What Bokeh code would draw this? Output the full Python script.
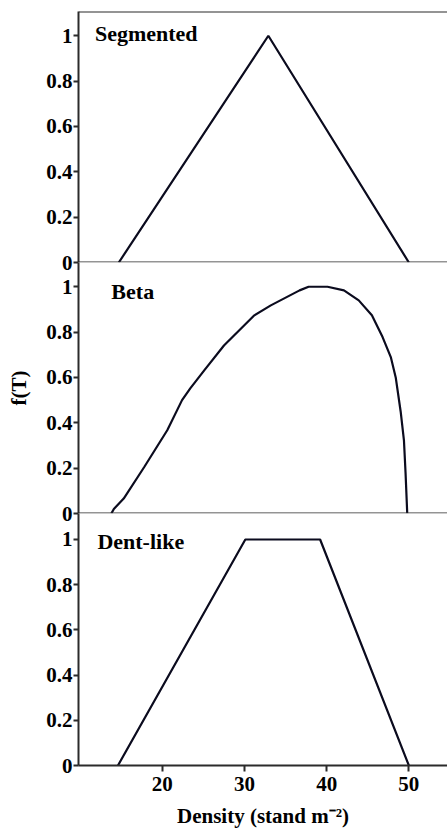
from bokeh.plotting import figure
from bokeh.layouts import column
from bokeh.models import Range1d, FixedTicker, NumeralTickFormatter, Span
from bokeh.core.properties import value
from bokeh.embed import file_html
from bokeh.resources import INLINE

# ---- data ----
seg_x = [14.7, 32.9, 50.0]
seg_y = [0.0, 1.0, 0.0]

beta_x = [13.8, 14.1, 15.3, 17.8, 20.6, 22.4, 23.4, 25.1, 27.5, 31.2, 33.2, 36.7,
          37.8, 40.1, 42.1, 43.9, 45.5, 46.8, 47.8, 48.4, 49.0, 49.4, 49.6, 49.8]
beta_y = [0.0, 0.02, 0.066, 0.205, 0.367, 0.5, 0.552, 0.631, 0.741, 0.874, 0.918, 0.984,
          1.0, 1.0, 0.984, 0.94, 0.874, 0.778, 0.69, 0.6, 0.45, 0.323, 0.176, 0.0]

dent_x = [14.6, 30.1, 39.2, 50.0]
dent_y = [0.0, 1.0, 1.0, 0.0]

panel_names = ["Segmented", "Beta", "Dent-like"]
y_ticks = [0, 0.2, 0.4, 0.6, 0.8, 1]
x_ticks = [20, 30, 40, 50]
y_title = "f(T)"
x_title = "Density (stand m\u207b\u00b2)"

FONT = "Liberation Serif"
CURVE = "#0b0b1e"
AXIS = "#2b2b2b"
OVER = 14  # overlap between stacked panels so edge tick labels are not clipped


def make_panel(xs, ys, name, lx, ly, height, y_end, top, bottom, first, last, ylabel):
    p = figure(width=447, height=height,
               x_range=Range1d(9.8, 54.7), y_range=Range1d(0, y_end),
               output_backend="svg", toolbar_location=None,
               min_border_left=78, min_border_right=0,
               min_border_top=top, min_border_bottom=bottom,
               x_axis_location="below" if last else None,
               background_fill_color="white",
               border_fill_color="white" if first else None,
               outline_line_color=None,
               margin=(0, 0, 0, 0) if first else (-OVER, 0, 0, 0))
    p.grid.visible = False
    p.line(xs, ys, line_color=CURVE, line_width=2.2)
    p.text(x=[lx], y=[ly], text=[name], text_font=value(FONT), text_font_style="bold",
           text_font_size="22px", text_baseline="middle", text_align="left",
           text_color="black")

    ya = p.yaxis[0]
    ya.ticker = FixedTicker(ticks=y_ticks)
    ya.formatter = NumeralTickFormatter(format="0.[0]")
    ya.major_tick_in = 0
    ya.major_tick_out = 5
    ya.minor_tick_line_color = None
    ya.axis_line_width = 2
    ya.axis_line_color = AXIS
    ya.major_tick_line_width = 2
    ya.major_tick_line_color = AXIS
    ya.major_label_text_font = FONT
    ya.major_label_text_font_style = "bold"
    ya.major_label_text_font_size = "21px"
    ya.major_label_text_color = "black"
    ya.major_label_standoff = 1
    if ylabel:
        ya.axis_label = y_title
        ya.axis_label_text_font = FONT
        ya.axis_label_text_font_style = "bold"
        ya.axis_label_text_font_size = "21px"
        ya.axis_label_text_color = "black"
        ya.axis_label_standoff = 12

    if first:
        p.add_layout(Span(location=y_end, dimension="width", line_color=AXIS, line_width=2))
    if not last:
        p.add_layout(Span(location=0, dimension="width", line_color=AXIS, line_width=2))
    else:
        xa = p.xaxis[0]
        xa.ticker = FixedTicker(ticks=x_ticks)
        xa.major_tick_in = 0
        xa.major_tick_out = 6
        xa.minor_tick_line_color = None
        xa.axis_line_width = 2
        xa.axis_line_color = AXIS
        xa.major_tick_line_width = 2
        xa.major_tick_line_color = AXIS
        xa.major_label_text_font = FONT
        xa.major_label_text_font_style = "bold"
        xa.major_label_text_font_size = "21px"
        xa.major_label_text_color = "black"
        xa.major_label_standoff = 5
        xa.axis_label = x_title
        xa.axis_label_text_font = FONT
        xa.axis_label_text_font_style = "bold"
        xa.axis_label_text_font_size = "21px"
        xa.axis_label_text_color = "black"
        xa.axis_label_standoff = 10
    return p


p1 = make_panel(seg_x, seg_y, panel_names[0], 11.8, 1.01, 11 + 251 + OVER, 1.107, 11, OVER,
                True, False, False)
p2 = make_panel(beta_x, beta_y, panel_names[1], 13.8, 0.98, 251 + OVER, 1.107, 0, OVER,
                False, False, True)
p3 = make_panel(dent_x, dent_y, panel_names[2], 12.1, 0.99, 253 + 64, 1.115, 0, 64,
                False, True, False)

layout = column(p1, p2, p3, spacing=0)

with open("out.html", "w") as f:
    f.write(file_html(layout, INLINE))
